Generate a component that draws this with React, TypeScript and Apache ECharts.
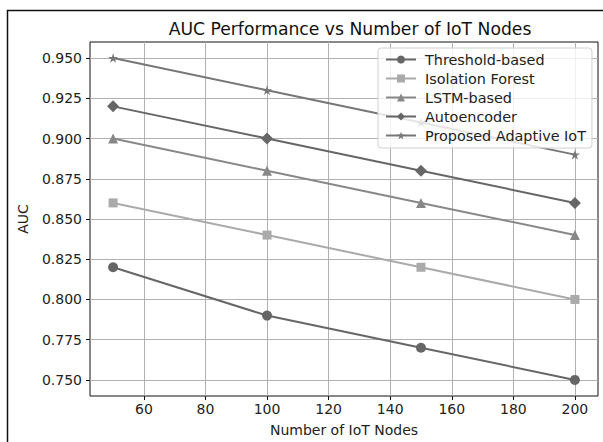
import React, { useEffect, useRef } from "react";
import * as echarts from "echarts";

const nodes = [50, 100, 150, 200];
const seriesNames = ["Threshold-based", "Isolation Forest", "LSTM-based", "Autoencoder", "Proposed Adaptive IoT"];
const thresholdVals = [0.82, 0.79, 0.77, 0.75];
const isolationVals = [0.86, 0.84, 0.82, 0.80];
const lstmVals = [0.90, 0.88, 0.86, 0.84];
const autoencoderVals = [0.92, 0.90, 0.88, 0.86];
const proposedVals = [0.95, 0.93, 0.91, 0.89];
const xTicks = [60, 80, 100, 120, 140, 160, 180, 200];
const yTicks = [0.75, 0.775, 0.8, 0.825, 0.85, 0.875, 0.9, 0.925, 0.95];

const STAR = "path://M0,-1L0.2245,-0.309L0.951,-0.309L0.363,0.118L0.588,0.809L0,0.382L-0.588,0.809L-0.363,0.118L-0.951,-0.309L-0.2245,-0.309Z";

const FONT = "DejaVu Sans";

export default function App() {
  const ref = useRef<HTMLDivElement>(null);
  useEffect(() => {
    if (!ref.current) return;
    const chart = echarts.init(ref.current, null, { renderer: "svg" });
    const allVals = [thresholdVals, isolationVals, lstmVals, autoencoderVals, proposedVals];
    const colors = ["#666666", "#aaaaaa", "#888888", "#666666", "#777777"];
    const symbols = ["circle", "rect", "triangle", "diamond", STAR];
    const sizes = [10, 9, 10, 12, 10];
    const series = allVals.map((vals, i) => ({
      name: seriesNames[i],
      type: "line",
      data: nodes.map((n, j) => [n, vals[j]]),
      symbol: symbols[i],
      symbolSize: sizes[i],
      symbolKeepAspect: true,
      showSymbol: true,
      lineStyle: { color: colors[i], width: 2 },
      itemStyle: { color: colors[i] },
      emphasis: { disabled: true },
    }));
    chart.setOption({
      animation: false,
      textStyle: { fontFamily: FONT },
      title: {
        text: "AUC Performance vs Number of IoT Nodes",
        left: 345,
        textAlign: "center",
        top: 15,
        textStyle: { fontFamily: FONT, fontSize: 17.2, fontWeight: "normal", color: "#111" },
      },
      graphic: [
        {
          type: "rect",
          shape: { x: 7.5, y: 10.5, width: 640, height: 480 },
          style: { fill: "none", stroke: "#111", lineWidth: 1.5 },
          silent: true,
          z: -1,
        },
      ],
      legend: {
        orient: "vertical",
        left: 378,
        top: 48,
        itemWidth: 30,
        itemHeight: 10,
        itemGap: 2,
        padding: [3, 6, 4, 7],
        borderColor: "#d0d0d0",
        borderWidth: 1,
        borderRadius: 3,
        backgroundColor: "rgba(255,255,255,0.8)",
        textStyle: { fontFamily: FONT, fontSize: 14.4, lineHeight: 17, color: "#222", padding: [0, 0, 0, 4] },
        data: seriesNames,
      },
      grid: { left: 90, right: 5, top: 42, bottom: 45, show: true, borderColor: "#111", borderWidth: 1, backgroundColor: "transparent" },
      xAxis: {
        type: "value",
        min: 42.5,
        max: 207.5,
        name: "Number of IoT Nodes",
        nameLocation: "middle",
        nameGap: 27,
        nameTextStyle: { fontFamily: FONT, fontSize: 14, color: "#222" },
        axisLine: { show: false },
        axisTick: { show: true, customValues: xTicks, length: 4, lineStyle: { color: "#111" } },
        axisLabel: { customValues: xTicks, fontFamily: FONT, fontSize: 14, color: "#222", margin: 6 },
        splitLine: { show: true, lineStyle: { color: "#b0b0b0", width: 1 } },
      },
      yAxis: {
        type: "value",
        min: 0.74,
        max: 0.96,
        name: "AUC",
        nameLocation: "middle",
        nameGap: 60,
        nameRotate: 90,
        nameTextStyle: { fontFamily: FONT, fontSize: 14, color: "#222" },
        axisLine: { show: false },
        axisTick: { show: true, customValues: yTicks, length: 4, lineStyle: { color: "#111" } },
        axisLabel: {
          customValues: yTicks,
          fontFamily: FONT,
          fontSize: 14,
          color: "#222",
          margin: 8,
          formatter: (v: number) => v.toFixed(3),
        },
        splitLine: { show: true, lineStyle: { color: "#b0b0b0", width: 1 } },
      },
      series,
    });
    return () => chart.dispose();
  }, []);
  return <div ref={ref} style={{ position: "absolute", left: 0, top: 0, width: 603, height: 442 }} />;
}
